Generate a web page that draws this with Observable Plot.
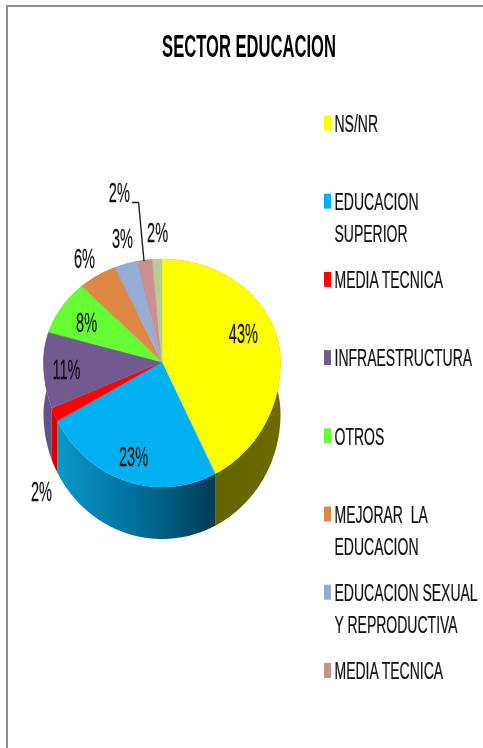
<!DOCTYPE html>
<html><head><meta charset="utf-8">
<script src="https://cdn.jsdelivr.net/npm/d3@7"></script>
<script src="https://cdn.jsdelivr.net/npm/@observablehq/plot@0.6"></script>
<style>
html,body{margin:0;padding:0;background:#fff;overflow:hidden}
#page{position:relative;width:483px;height:748px}
#frame{position:absolute;left:6px;top:5px;right:0;bottom:0;border-left:2px solid #8e8e8e;border-top:2px solid #8e8e8e}
#chart{position:absolute;left:0;top:0}
svg text{white-space:pre}
svg{filter:blur(.5px)}
</style></head><body>
<div id="page"><div id="frame"></div><div id="chart"></div></div>
<script>
// Data
const title = "SECTOR EDUCACION";
const sliceNames = ["NS/NR","EDUCACION SUPERIOR","MEDIA TECNICA","INFRAESTRUCTURA","OTROS","MEJORAR LA EDUCACION","EDUCACION SEXUAL Y REPRODUCTIVA","MEDIA TECNICA 2","SIN LEYENDA"];
const sliceShares = [42.6, 24.6, 1.8, 10.7, 8.5, 5.3, 3.2, 2.0, 1.3];   // wedge sizes as drawn
const sliceLabels = ["43%","23%","2%","11%","8%","6%","3%","2%","2%"]; // printed percentages
const legendEntries = [["NS/NR"],["EDUCACION","SUPERIOR"],["MEDIA TECNICA"],["INFRAESTRUCTURA"],["OTROS"],["MEJORAR  LA","EDUCACION"],["EDUCACION SEXUAL","Y REPRODUCTIVA"],["MEDIA TECNICA"]];

// Styling and layout
const topColors  = ["#ffff00","#00b0f0","#ff0000","#725a8f","#66ff33","#dd8844","#95add4","#cc8f8f","#b8cc96"];
const wallColors = ["url(#wallYellow)","url(#wallBlue)","#d80000","#66528a","#52cc29","#b06c36","#7a8dad","#a67474","#96a67a"];
const labelAngles = [68.3,198,224.5,265.5,301.2,326.9,344.2,347.5,358.1];
const labelReach  = [.735,.791,1.457,.813,.749,1.205,1.241,1.681,1.253];
const W = 483, H = 748, CX = 162, CY = 362, RX = 118.5, RY_BACK = 103, RY_FRONT = 125, DEPTH = 52;

const rim = (deg, reach = 1) => {
  const t = deg * Math.PI / 180, c = Math.cos(t);
  return {x: CX + RX * reach * Math.sin(t), y: CY - reach * c * (c > 0 ? RY_BACK : RY_FRONT)};
};
let acc = 0;
const slices = sliceShares.map((s, i) => {
  const a0 = acc * 3.6; acc += s; const a1 = acc * 3.6;
  return {i, name: sliceNames[i], a0, a1, top: topColors[i], wall: wallColors[i]};
});
const arcRows = slices.flatMap(sl => {
  const n = Math.max(2, Math.ceil(sl.a1 - sl.a0));
  return d3.range(n + 1).map(k => {
    const p = rim(sl.a0 + (sl.a1 - sl.a0) * k / n);
    return {...sl, x: p.x, y: p.y};
  });
});
const labelRows = sliceLabels.map((text, i) => ({text, ...rim(labelAngles[i], labelReach[i])}));
const leader = [rim(350.7, 1.574), rim(352.6, 1.566), rim(351, 1)];

const LEG_Y0 = 123, LEG_STEP = 78.2, LINE = 32, SW_X = 324, TXT_X = 334;
const legendColors = topColors.slice(0, legendEntries.length);
const legendText = legendEntries.flatMap((lines, i) => lines.map((text, j) => ({text, y: LEG_Y0 + 0.5 + i * LEG_STEP + j * LINE})));
const swatches = legendEntries.map((_, i) => ({fill: legendColors[i], y: LEG_Y0 + i * LEG_STEP}));

const gradient = (id, stops) => {
  const g = d3.create("svg:linearGradient").attr("id", id);
  stops.forEach(([o, c]) => g.append("stop").attr("offset", o).attr("stop-color", c));
  return g.node();
};
const defs = () => {
  const d = d3.create("svg:defs");
  d.append(() => gradient("wallBlue", [[0,"#0a98cb"],[.5,"#016f99"],[1,"#013c56"]]));
  d.append(() => gradient("wallYellow", [[0,"#5f5f00"],[1,"#6b6b00"]]));
  return d.node();
};

const plot = Plot.plot({
  width: W, height: H, margin: 0,
  x: {domain: [0, W], range: [0, W], axis: null},
  y: {domain: [0, H], range: [0, H], axis: null},
  color: {type: "identity"},
  marks: [
    defs,
    Plot.area(arcRows, {x1: "x", y1: "y", x2: "x", y2: d => d.y + DEPTH, z: "i", fill: "wall"}),
    Plot.area(arcRows, {x1: () => CX, y1: () => CY, x2: "x", y2: "y", z: "i", fill: "top", stroke: "top", strokeWidth: .4}),
    Plot.line(leader, {x: "x", y: "y", stroke: "#222", strokeWidth: 1.4}),
    Plot.text(labelRows, {x: "x", y: "y", text: "text", fontSize: 28, fontFamily: "Liberation Sans", fill: "#111", stroke: "#111", strokeWidth: .25, className: "sq-label"}),
    Plot.text([title], {x: () => 248.5, y: () => 47, text: d => d, fontSize: 31, fontWeight: "bold", fontFamily: "Liberation Sans", fill: "#000", className: "sq-title"}),
    Plot.rect(swatches, {x1: () => SW_X, x2: () => SW_X + 7, y1: d => d.y - 7.5, y2: d => d.y + 7.5, fill: "fill"}),
    Plot.text(legendText, {x: () => TXT_X, y: "y", text: "text", textAnchor: "start", fontSize: 24.5, fontFamily: "Liberation Sans", fill: "#111", stroke: "#111", strokeWidth: .25, className: "sq-legend"})
  ]
});
plot.style.background = "transparent";
document.getElementById("chart").append(plot);

// The reference is squeezed horizontally; narrow each text's glyphs to match.
[["sq-label", .52], ["sq-title", .535], ["sq-legend", .572]].forEach(([cls, k]) => {
  plot.querySelectorAll(`.${cls} text, text.${cls}`).forEach(t => {
    t.setAttribute("transform", `${t.getAttribute("transform") || ""} scale(${k},1)`);
  });
});
</script></body></html>
